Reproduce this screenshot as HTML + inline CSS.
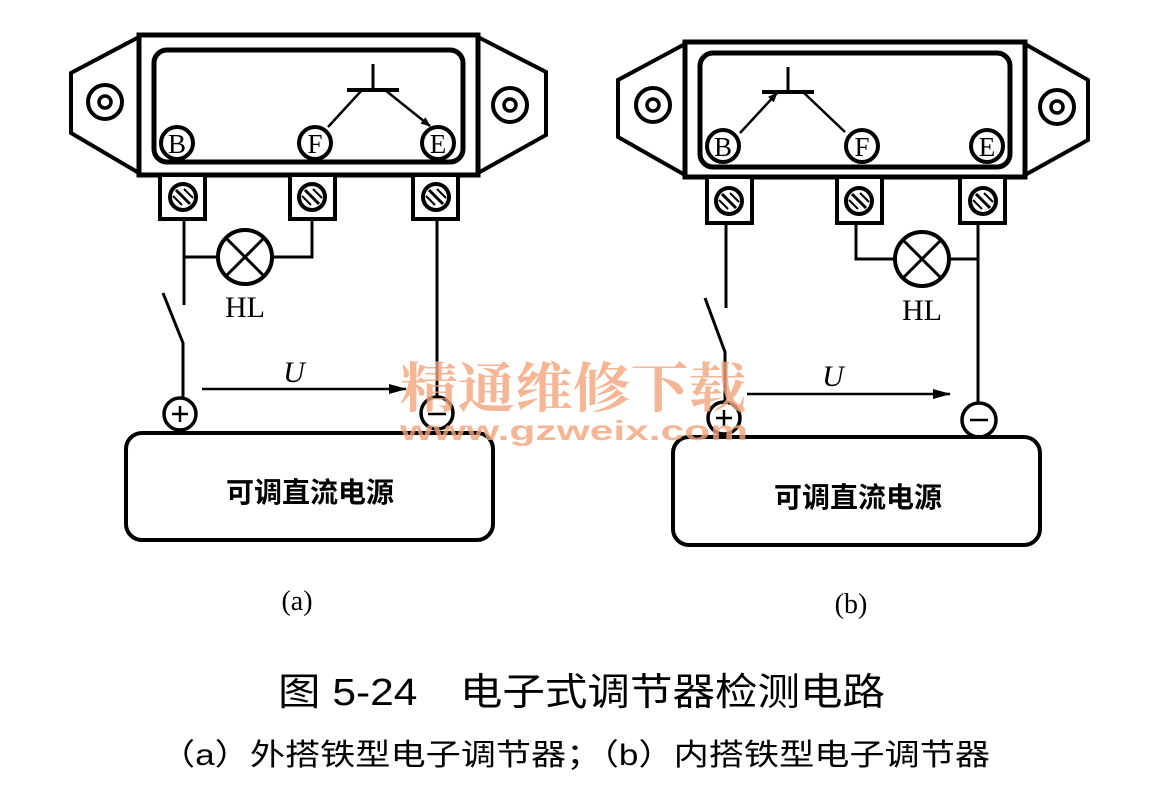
<!DOCTYPE html>
<html><head><meta charset="utf-8"><style>
html,body{margin:0;padding:0;background:#fff;width:1152px;height:799px;overflow:hidden}
svg{display:block}
text{font-family:"Liberation Serif","Noto Serif CJK SC",serif}
.cjk{font-family:"Liberation Sans","Noto Sans CJK SC",sans-serif;font-weight:bold}
</style></head><body>
<svg width="1152" height="799" viewBox="0 0 1152 799" xmlns="http://www.w3.org/2000/svg">
<defs>
<marker id="ar" markerWidth="10" markerHeight="8" refX="9" refY="4" orient="auto" markerUnits="userSpaceOnUse">
<path d="M0,0 L10,4 L0,8 Z" fill="#000"/></marker>
<marker id="ar2" markerWidth="18" markerHeight="10" refX="17" refY="5" orient="auto" markerUnits="userSpaceOnUse">
<path d="M0,0 L18,5 L0,10 Z" fill="#000"/></marker>
<g id="screw"><circle r="13" fill="#fff" stroke="#000" stroke-width="4"/><line x1="-7" y1="-7" x2="7" y2="7" stroke="#000" stroke-width="3"/><line x1="-10" y1="-1" x2="-1" y2="8" stroke="#000" stroke-width="2"/><line x1="1" y1="-8" x2="10" y2="1" stroke="#000" stroke-width="2"/></g>
<g id="mount"><circle r="17" fill="none" stroke="#000" stroke-width="4"/><circle r="6" fill="none" stroke="#000" stroke-width="3.5"/></g>
<g id="lamp"><circle r="27" fill="#fff" stroke="#000" stroke-width="4"/><line x1="-19" y1="-19" x2="19" y2="19" stroke="#000" stroke-width="3"/><line x1="19" y1="-19" x2="-19" y2="19" stroke="#000" stroke-width="3"/></g>
</defs>
<g fill="none" stroke="#000">
<polygon points="139,35 478,35 478,175 139,175" stroke-width="5"/>
<polyline points="139,37 71,73 71,133 139,173" stroke-width="4"/>
<polyline points="478,37 546,72 546,135 478,173" stroke-width="4"/>
<rect x="154" y="50" width="309" height="112" rx="13" stroke-width="5"/>
<use href="#mount" x="105" y="102"/><use href="#mount" x="510" y="105"/>
<circle cx="177" cy="143" r="16" fill="#fff" stroke-width="4"/>
<circle cx="315" cy="143" r="16" fill="#fff" stroke-width="4"/>
<circle cx="438" cy="143" r="16" fill="#fff" stroke-width="4"/>
<line x1="373" y1="64" x2="373" y2="90" stroke-width="3"/>
<line x1="347" y1="90" x2="399" y2="90" stroke-width="4"/>
<line x1="362" y1="90" x2="328" y2="127" stroke-width="2.5"/>
<line x1="385" y1="90" x2="430" y2="126" stroke-width="2.5" marker-end="url(#ar)"/>
<rect x="160" y="175" width="45" height="44" fill="#fff" stroke-width="4"/>
<rect x="290" y="175" width="45" height="44" fill="#fff" stroke-width="4"/>
<rect x="413" y="175" width="45" height="44" fill="#fff" stroke-width="4"/>
<use href="#screw" x="183" y="197"/><use href="#screw" x="312" y="197"/><use href="#screw" x="436" y="197"/>
<polyline points="184,219 184,305" stroke-width="3"/>
<line x1="184" y1="257" x2="218" y2="257" stroke-width="3"/>
<polyline points="272,257 312,257 312,219" stroke-width="3"/>
<use href="#lamp" x="245" y="257"/>
<polyline points="163,293 183,343 183,399" stroke-width="3"/>
<circle cx="180" cy="414" r="16" stroke-width="3.5"/>
<line x1="172" y1="414" x2="188" y2="414" stroke-width="2.5"/><line x1="180" y1="406" x2="180" y2="422" stroke-width="2.5"/>
<line x1="437" y1="219" x2="437" y2="397" stroke-width="3"/>
<circle cx="437" cy="413" r="16" stroke-width="3.5"/>
<line x1="428" y1="414" x2="446" y2="414" stroke-width="2.5"/>
<line x1="202" y1="389" x2="406" y2="389" stroke-width="2.5" marker-end="url(#ar2)"/>
<rect x="126" y="433" width="367" height="107" rx="16" stroke-width="4"/>
<polygon points="685,42 1025,42 1025,177 685,177" stroke-width="5"/>
<polyline points="685,44 618,80 618,137 685,175" stroke-width="4"/>
<polyline points="1025,44 1088,80 1088,140 1025,175" stroke-width="4"/>
<rect x="700" y="53" width="310" height="114" rx="13" stroke-width="5"/>
<use href="#mount" x="653" y="105"/><use href="#mount" x="1057" y="107"/>
<circle cx="723" cy="146" r="16" fill="#fff" stroke-width="4"/>
<circle cx="862" cy="146" r="16" fill="#fff" stroke-width="4"/>
<circle cx="987" cy="146" r="16" fill="#fff" stroke-width="4"/>
<line x1="788" y1="67" x2="788" y2="92" stroke-width="3"/>
<line x1="762" y1="92" x2="814" y2="92" stroke-width="4"/>
<line x1="740" y1="133" x2="777" y2="93" stroke-width="2.5" marker-end="url(#ar)"/>
<line x1="803" y1="92" x2="845" y2="132" stroke-width="2.5"/>
<rect x="707" y="177" width="45" height="46" fill="#fff" stroke-width="4"/>
<rect x="837" y="177" width="45" height="46" fill="#fff" stroke-width="4"/>
<rect x="960" y="177" width="45" height="46" fill="#fff" stroke-width="4"/>
<use href="#screw" x="729" y="201"/><use href="#screw" x="859" y="201"/><use href="#screw" x="983" y="201"/>
<line x1="726" y1="223" x2="726" y2="308" stroke-width="3"/>
<polyline points="705,298 725,352 725,402" stroke-width="3"/>
<circle cx="724" cy="418" r="16" stroke-width="3.5"/>
<line x1="716" y1="418" x2="732" y2="418" stroke-width="2.5"/><line x1="724" y1="410" x2="724" y2="426" stroke-width="2.5"/>
<polyline points="856,223 856,259 895,259" stroke-width="3"/>
<line x1="949" y1="259" x2="978" y2="259" stroke-width="3"/>
<use href="#lamp" x="922" y="259"/>
<line x1="978" y1="223" x2="978" y2="403" stroke-width="3"/>
<circle cx="979" cy="420" r="17" stroke-width="3.5"/>
<line x1="970" y1="420" x2="988" y2="420" stroke-width="2.5"/>
<line x1="747" y1="394" x2="950" y2="394" stroke-width="2.5" marker-end="url(#ar2)"/>
<rect x="673" y="437" width="367" height="108" rx="16" stroke-width="4"/>
</g>
<g font-size="27" text-anchor="middle" fill="#000">
<text x="177" y="153">B</text><text x="315" y="153">F</text><text x="438" y="153">E</text>
<text x="723" y="156">B</text><text x="862" y="156">F</text><text x="987" y="156">E</text>
</g>
<g font-size="30" text-anchor="middle" fill="#000">
<text x="245" y="317">HL</text><text x="922" y="320">HL</text>
<text x="294" y="382" font-style="italic">U</text><text x="833" y="386" font-style="italic">U</text>
<text x="297" y="610" font-size="28">(a)</text><text x="851" y="613" font-size="28">(b)</text>
</g>
<text class="cjk" x="310" y="502" font-size="28" text-anchor="middle">可调直流电源</text>
<text class="cjk" x="858" y="507" font-size="28" text-anchor="middle">可调直流电源</text>
<text x="400" y="407" font-size="54" fill="#f3a47a" fill-opacity="0.8" textLength="346" lengthAdjust="spacingAndGlyphs" style="font-family:'Liberation Serif','Noto Serif CJK SC',serif;font-weight:bold">精通维修下载</text>
<text x="400" y="440" font-size="28" fill="#f3a47a" fill-opacity="0.8" textLength="348" lengthAdjust="spacingAndGlyphs" style="font-family:'Liberation Sans',sans-serif;font-weight:bold">www.gzweix.com</text>
<text x="278" y="705" font-size="38" textLength="607" lengthAdjust="spacingAndGlyphs" style="font-family:'Liberation Sans','Noto Sans CJK SC',sans-serif">图 5-24　电子式调节器检测电路</text>
<text x="160" y="765" font-size="30" textLength="830" lengthAdjust="spacingAndGlyphs" style="font-family:'Liberation Sans','Noto Sans CJK SC',sans-serif">（a）外搭铁型电子调节器；（b）内搭铁型电子调节器</text>
</svg>
</body></html>
